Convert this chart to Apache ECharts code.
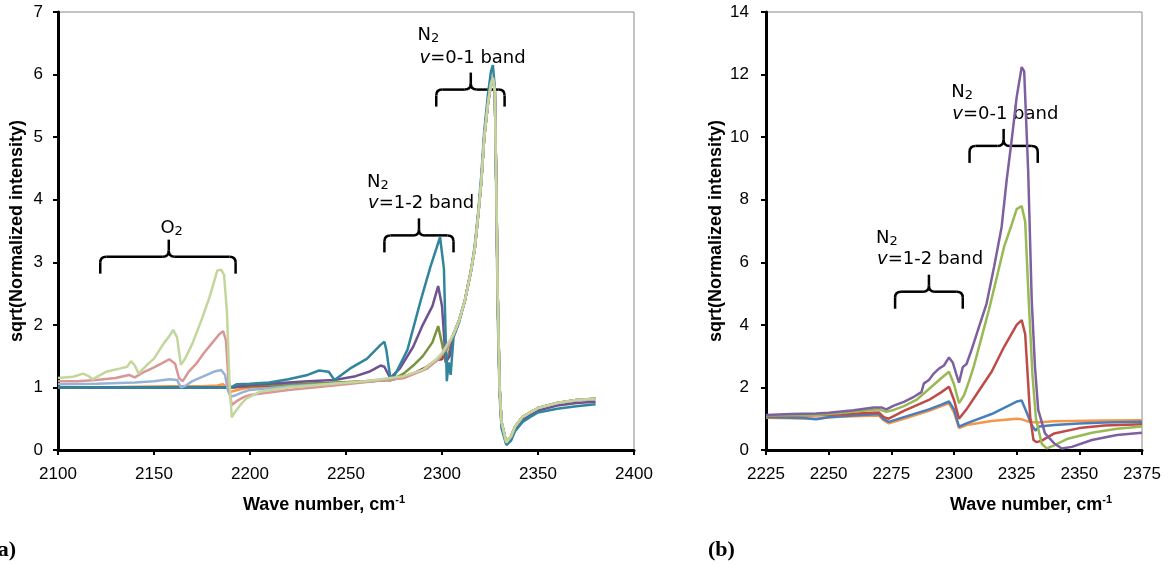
<!DOCTYPE html>
<html><head><meta charset="utf-8">
<script src="https://cdn.jsdelivr.net/npm/echarts@6/dist/echarts.min.js"></script>
<style>html,body{margin:0;padding:0;background:#fff}#c{width:1172px;height:565px}</style>
</head><body><div id="c"></div>
<script>
// ===== Panel (a) data =====
const xTicksA = [2100, 2400, 50];
const yTicksA = [0, 7, 1];
const xTicksB = [2225, 2375, 25];
const yTicksB = [0, 14, 2];

// shared N2 0-1 band shape (after 2304 cm-1) in panel (a)
const n2PeakX = [2306,2309,2312,2315,2317,2319,2320.5,2322,2324,2325.5,2326.5,2327.5,2328.3,2329,2330,2331,2333.5,2336,2338,2342,2346,2350,2360,2370,2380];
const n2PeakY = [1.85,2.08,2.4,2.85,3.2,3.8,4.3,5.0,5.55,5.85,5.95,5.75,4.2,2.5,1.0,0.45,0.12,0.22,0.37,0.53,0.6,0.67,0.75,0.8,0.82];
const tealPeakY = [1.8,2.05,2.4,2.85,3.25,3.85,4.4,5.1,5.7,6.05,6.15,5.8,4.0,2.2,0.9,0.35,0.08,0.15,0.3,0.45,0.53,0.6,0.66,0.7,0.73];
const purplePeakY = [1.85,2.08,2.4,2.85,3.2,3.8,4.3,5.0,5.55,5.85,5.95,5.75,4.2,2.5,1.0,0.4,0.1,0.2,0.33,0.48,0.56,0.63,0.71,0.75,0.77];

const orangeAX = [2100,2120,2140,2160,2175,2183,2186,2188,2190,2195,2200,2230,2260,2280,2292,2298,2303];
const orangeAY = [1.0,1.0,1.01,1.02,1.02,1.03,1.05,1.0,0.93,0.97,1.0,1.05,1.1,1.15,1.3,1.45,1.65];
const redAX = [2100,2150,2190,2200,2240,2260,2275,2285,2292,2297,2300,2303];
const redAY = [1.0,1.0,1.0,1.02,1.06,1.09,1.13,1.22,1.33,1.44,1.45,1.65];
const greenAX = [2100,2190,2200,2240,2260,2270,2273,2280,2285,2290,2295,2298,2300,2302,2304];
const greenAY = [1.0,1.0,1.03,1.07,1.1,1.12,1.11,1.22,1.35,1.5,1.72,1.98,1.7,1.4,1.6];
const purpleAX = [2100,2190,2200,2230,2244,2255,2262,2268,2270,2273,2278,2285,2290,2295,2298,2300,2302,2304];
const purpleAY = [1.0,1.0,1.04,1.1,1.12,1.18,1.25,1.35,1.33,1.15,1.3,1.65,2.0,2.3,2.62,2.3,1.4,1.5];
const tealAX = [2100,2150,2190,2193,2200,2210,2220,2230,2236,2241,2244,2252,2261,2268,2270,2271,2273,2275,2282,2289,2294,2299,2301,2302.5,2303.5,2304.5];
const tealAY = [1.0,1.0,1.0,1.05,1.06,1.08,1.13,1.2,1.27,1.25,1.12,1.3,1.46,1.68,1.73,1.6,1.17,1.17,1.6,2.4,2.93,3.4,2.9,1.1,1.4,1.2];
const lightBlueAX = [2100,2120,2140,2150,2158,2162,2164,2166,2170,2176,2182,2185,2187,2188.5,2190,2192,2196,2200,2220,2250,2275,2290,2298,2303];
const lightBlueAY = [1.05,1.06,1.08,1.1,1.13,1.12,1.0,1.02,1.1,1.18,1.26,1.28,1.2,0.95,0.85,0.87,0.92,0.96,1.02,1.07,1.13,1.27,1.45,1.65];
const pinkAX = [2100,2110,2120,2130,2137,2140,2145,2150,2155,2158,2161,2163,2165,2168,2172,2176,2180,2184,2186,2187.5,2189,2190.5,2193,2197,2200,2220,2250,2280,2292,2298,2303];
const pinkAY = [1.1,1.1,1.12,1.15,1.2,1.16,1.25,1.32,1.4,1.45,1.38,1.15,1.1,1.25,1.38,1.55,1.7,1.85,1.9,1.75,1.0,0.72,0.78,0.85,0.88,0.96,1.05,1.15,1.3,1.45,1.65];
const lightGreenAX = [2100,2108,2113,2116,2118,2125,2132,2136,2138,2140,2142,2146,2150,2155,2158,2160,2162,2164,2166,2170,2175,2179,2183,2185,2186.5,2188,2189.3,2190.5,2192,2195,2198,2205,2220,2240,2260,2280,2290,2297,2300,2303];
const lightGreenAY = [1.15,1.17,1.22,1.18,1.13,1.25,1.3,1.33,1.42,1.35,1.22,1.35,1.46,1.7,1.82,1.92,1.8,1.36,1.45,1.7,2.1,2.45,2.87,2.88,2.8,2.2,1.1,0.52,0.6,0.72,0.82,0.93,1.0,1.05,1.1,1.18,1.28,1.45,1.55,1.7];

// ===== Panel (b) data =====
const orangeBX = [2225,2245,2250,2260,2270,2272,2274,2280,2290,2295,2298,2300,2302,2305,2315,2325,2327,2330,2333,2340,2360,2375];
const orangeBY = [1.03,1.0,1.05,1.08,1.1,0.95,0.85,1.0,1.25,1.4,1.5,1.2,0.7,0.8,0.93,1.0,0.98,0.9,0.88,0.92,0.94,0.95];
const blueBX = [2225,2240,2245,2250,2260,2270,2272,2274,2280,2290,2295,2298,2300,2302,2305,2315,2320,2325,2327,2329,2331,2332.5,2334,2340,2350,2360,2375];
const blueBY = [1.05,1.02,0.98,1.05,1.1,1.15,0.98,0.9,1.05,1.3,1.45,1.55,1.3,0.75,0.85,1.15,1.35,1.55,1.58,1.2,0.8,0.62,0.75,0.8,0.85,0.88,0.9];
const redBX = [2225,2250,2265,2270,2272,2274,2280,2290,2295,2298,2300,2302,2305,2310,2315,2320,2325,2327,2328.4,2330.4,2331.7,2333,2335,2340,2350,2360,2375];
const redBY = [1.08,1.12,1.18,1.2,1.05,1.0,1.25,1.6,1.85,2.02,1.6,1.0,1.3,1.9,2.5,3.3,4.0,4.15,3.7,1.06,0.32,0.25,0.3,0.53,0.7,0.78,0.82];
const greenBX = [2225,2245,2250,2260,2270,2273,2276,2280,2285,2290,2295,2298,2300,2302,2304,2306,2308,2311,2314,2317,2320,2323,2325,2327,2328.4,2329.8,2331.3,2332.7,2335,2337,2340,2345,2355,2365,2375];
const greenBY = [1.1,1.12,1.15,1.22,1.3,1.22,1.28,1.4,1.6,1.95,2.3,2.5,2.1,1.5,1.75,2.2,2.7,3.6,4.5,5.5,6.5,7.2,7.7,7.8,7.3,4.8,2.4,1.0,0.2,0.05,0.15,0.35,0.55,0.68,0.75];
const purpleBX = [2225,2235,2245,2250,2260,2268,2271,2273,2276,2280,2284,2287,2288,2290,2292,2294,2296,2298,2299.5,2301,2302,2303.5,2305,2307,2310,2313,2316,2319,2321,2323,2325,2327,2328,2329.6,2331,2332.3,2333.6,2336.3,2340,2343,2347,2355,2365,2375];
const purpleBY = [1.12,1.15,1.17,1.19,1.27,1.36,1.36,1.3,1.42,1.54,1.7,1.85,2.13,2.24,2.45,2.6,2.7,2.96,2.8,2.4,2.15,2.65,2.75,3.2,3.94,4.68,5.86,7.13,8.62,9.9,11.28,12.24,12.1,8.9,4.8,2.66,1.28,0.53,0.21,0.05,0.1,0.32,0.48,0.55];

// ===== Annotations (braces: start, end, level, tip) =====
const bracesA = [[2122, 2192.5, 3.09, 2157.7], [2270, 2306, 3.43, 2288], [2297, 2332.6, 5.76, 2315]];
const bracesB = [[2306.2, 2333.4, 9.72, 2319.8], [2276.5, 2303.5, 5.06, 2290]];
// labels: x, y, text, align
const labelsA = [
  [2159.2, 3.55, '{n|O}{s|2}', 'center'],
  [2260.9, 4.28, '{n|N}{s|2}', 'left'],
  [2261.5, 3.95, '{i|v}{n|=1-2 band}', 'left'],
  [2287.3, 6.63, '{n|N}{s|2}', 'left'],
  [2288.3, 6.26, '{i|v}{n|=0-1 band}', 'left']
];
const labelsB = [
  [2298.9, 11.44, '{n|N}{s|2}', 'left'],
  [2299.3, 10.73, '{i|v}{n|=0-1 band}', 'left'],
  [2268.9, 6.77, '{n|N}{s|2}', 'left'],
  [2269.3, 6.10, '{i|v}{n|=1-2 band}', 'left']
];

const pairs = (xs, ys) => xs.map((x, i) => [x, ys[i]]);

const seriesA = [
  ['orange', '#F79646', orangeAX.concat(n2PeakX), orangeAY.concat(n2PeakY)],
  ['red', '#A5403C', redAX.concat(n2PeakX), redAY.concat(n2PeakY)],
  ['green', '#77933C', greenAX.concat(n2PeakX), greenAY.concat(n2PeakY)],
  ['purple', '#6E5292', purpleAX.concat(n2PeakX), purpleAY.concat(purplePeakY)],
  ['teal', '#31859C', tealAX.concat(n2PeakX), tealAY.concat(tealPeakY)],
  ['lightblue', '#95B3D7', lightBlueAX.concat(n2PeakX), lightBlueAY.concat(n2PeakY)],
  ['pink', '#D99694', pinkAX.concat(n2PeakX), pinkAY.concat(n2PeakY)],
  ['lightgreen', '#C3D69B', lightGreenAX.concat(n2PeakX), lightGreenAY.concat(n2PeakY)]
];
const seriesB = [
  ['orange', '#F79646', orangeBX, orangeBY],
  ['blue', '#4A7EBB', blueBX, blueBY],
  ['red', '#BE4B48', redBX, redBY],
  ['green', '#98B954', greenBX, greenBY],
  ['purple', '#7D60A0', purpleBX, purpleBY]
];

const FONT = 'Liberation Sans, Arial, sans-serif';
const ANNO = 'DejaVu Sans, sans-serif';

function braceItem(params, api) {
  const a = api.coord([api.value(0), api.value(2)]);
  const b = api.coord([api.value(1), api.value(2)]);
  const c = api.coord([api.value(3), api.value(2)]);
  const y = a[1], h = 17, r = 6;
  const st = {stroke: '#000', fill: null, lineWidth: 2.5};
  return {
    type: 'group',
    children: [
      {type: 'line', shape: {x1: a[0], y1: y + h, x2: a[0], y2: y + r}, style: st},
      {type: 'bezierCurve', shape: {x1: a[0], y1: y + r, cpx1: a[0], cpy1: y, x2: a[0] + r, y2: y}, style: st},
      {type: 'line', shape: {x1: a[0] + r, y1: y, x2: c[0] - r, y2: y}, style: st},
      {type: 'bezierCurve', shape: {x1: c[0] - r, y1: y, cpx1: c[0], cpy1: y, x2: c[0], y2: y - r}, style: st},
      {type: 'line', shape: {x1: c[0], y1: y - r, x2: c[0], y2: y - h}, style: st},
      {type: 'bezierCurve', shape: {x1: c[0], y1: y - r, cpx1: c[0], cpy1: y, x2: c[0] + r, y2: y}, style: st},
      {type: 'line', shape: {x1: c[0] + r, y1: y, x2: b[0] - r, y2: y}, style: st},
      {type: 'bezierCurve', shape: {x1: b[0] - r, y1: y, cpx1: b[0], cpy1: y, x2: b[0], y2: y + r}, style: st},
      {type: 'line', shape: {x1: b[0], y1: y + r, x2: b[0], y2: y + h}, style: st}
    ]
  };
}
const richAnno = {
  n: {fontSize: 18, fontFamily: ANNO, lineHeight: 20, fill: '#000', color: '#000'},
  s: {fontSize: 13, fontFamily: ANNO, lineHeight: 13, verticalAlign: 'bottom', fill: '#000', color: '#000'},
  i: {fontSize: 18, fontFamily: ANNO, fontStyle: 'italic', lineHeight: 20, fill: '#000', color: '#000'}
};
function makeLabelItem(list) {
  return function (params, api) {
    const p = api.coord([api.value(0), api.value(1)]);
    const item = list[params.dataIndex];
    return {
      type: 'text', x: p[0], y: p[1],
      style: {text: item[2], rich: richAnno, align: item[3], verticalAlign: 'middle', fill: '#000'}
    };
  };
}

function axisCommon(min, max, interval, margin) {
  return {
    type: 'value', min: min, max: max, interval: interval,
    axisLine: {show: true, onZero: false, lineStyle: {color: '#000', width: 3}},
    axisTick: {show: true, length: 5, lineStyle: {color: '#000', width: 2}},
    axisLabel: {fontSize: 17, color: '#000', fontFamily: FONT, margin: margin, formatter: v => String(v)},
    splitLine: {show: false}
  };
}

const series = [];
seriesA.forEach(s => series.push({
  type: 'line', name: s[0], xAxisIndex: 0, yAxisIndex: 0, data: pairs(s[2], s[3]),
  showSymbol: false, symbol: 'none', lineStyle: {color: s[1], width: 2.5}, itemStyle: {color: s[1]},
  animation: false, silent: true
}));
seriesB.forEach(s => series.push({
  type: 'line', name: s[0] + 'B', xAxisIndex: 1, yAxisIndex: 1, data: pairs(s[2], s[3]),
  showSymbol: false, symbol: 'none', lineStyle: {color: s[1], width: 2.5}, itemStyle: {color: s[1]},
  animation: false, silent: true
}));
series.push({type: 'custom', xAxisIndex: 0, yAxisIndex: 0, renderItem: braceItem, data: bracesA, animation: false, silent: true, clip: false});
series.push({type: 'custom', xAxisIndex: 1, yAxisIndex: 1, renderItem: braceItem, data: bracesB, animation: false, silent: true, clip: false});
series.push({type: 'custom', xAxisIndex: 0, yAxisIndex: 0, renderItem: makeLabelItem(labelsA), data: labelsA.map(l => [l[0], l[1]]), animation: false, silent: true, clip: false});
series.push({type: 'custom', xAxisIndex: 1, yAxisIndex: 1, renderItem: makeLabelItem(labelsB), data: labelsB.map(l => [l[0], l[1]]), animation: false, silent: true, clip: false});

const titleRich = {
  t: {fontSize: 18, fontWeight: 'bold', fontFamily: FONT, lineHeight: 22, fill: '#000', color: '#000'},
  sup: {fontSize: 11, fontWeight: 'bold', fontFamily: FONT, lineHeight: 11, verticalAlign: 'top', fill: '#000', color: '#000'}
};

const chart = echarts.init(document.getElementById('c'), null, {renderer: 'canvas'});
chart.setOption({
  backgroundColor: '#fff',
  animation: false,
  grid: [
    {left: 58, top: 12, width: 576, height: 438, show: true, borderColor: '#8a8a8a', borderWidth: 1, backgroundColor: 'transparent', containLabel: false, outerBoundsMode: 'none'},
    {left: 766, top: 12, width: 376, height: 438, show: true, borderColor: '#8a8a8a', borderWidth: 1, backgroundColor: 'transparent', containLabel: false, outerBoundsMode: 'none'}
  ],
  xAxis: [
    Object.assign(axisCommon(xTicksA[0], xTicksA[1], xTicksA[2], 16), {gridIndex: 0}),
    Object.assign(axisCommon(xTicksB[0], xTicksB[1], xTicksB[2], 16), {gridIndex: 1})
  ],
  yAxis: [
    Object.assign(axisCommon(yTicksA[0], yTicksA[1], yTicksA[2], 15), {gridIndex: 0}),
    Object.assign(axisCommon(yTicksB[0], yTicksB[1], yTicksB[2], 17), {gridIndex: 1})
  ],
  graphic: [
    {type: 'text', x: 17, y: 231, rotation: Math.PI / 2, style: {text: 'sqrt(Normalized intensity)', font: 'bold 18px ' + FONT, fill: '#000', align: 'center', verticalAlign: 'middle'}},
    {type: 'text', x: 716, y: 231, rotation: Math.PI / 2, style: {text: 'sqrt(Normalized intensity)', font: 'bold 18px ' + FONT, fill: '#000', align: 'center', verticalAlign: 'middle'}},
    {type: 'text', x: 324, y: 505, style: {text: '{t|Wave number, cm}{sup|-1}', rich: titleRich, align: 'center', verticalAlign: 'middle', fill: '#000'}},
    {type: 'text', x: 1031, y: 505, style: {text: '{t|Wave number, cm}{sup|-1}', rich: titleRich, align: 'center', verticalAlign: 'middle', fill: '#000'}},
    {type: 'text', x: 16, y: 550, style: {text: '(a)', font: 'bold 22px Liberation Serif, Times New Roman, serif', fill: '#000', align: 'right', verticalAlign: 'middle'}},
    {type: 'text', x: 708, y: 550, style: {text: '(b)', font: 'bold 22px Liberation Serif, Times New Roman, serif', fill: '#000', align: 'left', verticalAlign: 'middle'}}
  ],
  series: series
});
</script>
</body></html>
